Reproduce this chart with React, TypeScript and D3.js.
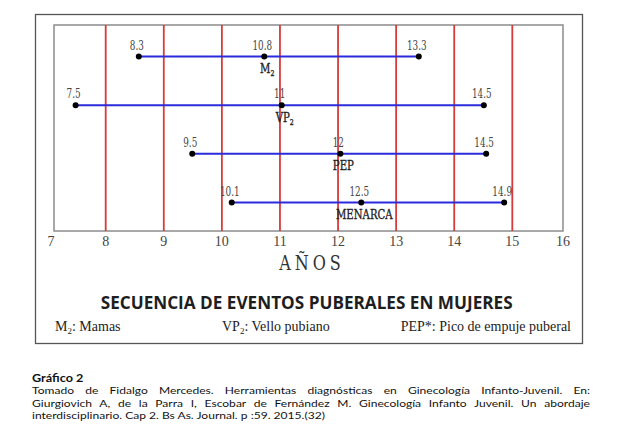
import React, { useEffect, useRef } from 'react';
import * as d3 from 'd3';

// events, top to bottom (name + subscript)
const eventNames = ['M', 'VP', 'PEP', 'MENARCA'];
const eventSubs = ['2', '2', '', ''];

// ages where the dots sit in the figure
const startAges = [8.57, 7.45, 9.49, 10.17];
const midAges = [10.73, 11.03, 12.04, 12.4];
const endAges = [13.39, 14.51, 14.55, 14.86];

// numbers printed above the dots
const startLabels = ['8.3', '7.5', '9.5', '10.1'];
const midLabels = ['10.8', '11', '12', '12.5'];
const endLabels = ['13.3', '14.5', '14.5', '14.9'];

const yearTicks = [7, 8, 9, 10, 11, 12, 13, 14, 15, 16];

const legendMain = ['M', 'VP', 'PEP*'];
const legendSubs = ['2', '2', ''];
const legendRest = [': Mamas', ': Vello pubiano', ': Pico de empuje puberal'];

const chartTitle = 'SECUENCIA DE EVENTOS PUBERALES EN MUJERES';
const axisTitle = 'AÑOS';
const captionTitle = 'Gráfico 2';
const captionLines = [
  'Tomado de Fidalgo Mercedes. Herramientas diagnósticas en Ginecología Infanto-Juvenil. En:',
  'Giurgiovich A, de la Parra I, Escobar de Fernández M. Ginecología Infanto Juvenil. Un abordaje',
  'interdisciplinario. Cap 2. Bs As. Journal. p :59. 2015.(32)',
];

const App: React.FC = () => {
  const svgRef = useRef<SVGSVGElement>(null);

  useEffect(() => {
    if (!svgRef.current) return;
    document.body.style.margin = '0';

    const svg = d3.select(svgRef.current);
    svg.selectAll('*').remove();

    const width = 640;
    const height = 448;
    const plot = { left: 54, right: 563, top: 25, bottom: 231 };
    const slabFont = '"DejaVu Serif", serif';

    svg.append('rect').attr('width', width).attr('height', height).attr('fill', '#fff');

    // outer frame + plot box
    svg.append('rect')
      .attr('x', 35.5).attr('y', 14.5).attr('width', 547).attr('height', 329)
      .attr('fill', 'none').attr('stroke', '#555').attr('stroke-width', 1.3);
    svg.append('rect')
      .attr('x', plot.left).attr('y', plot.top)
      .attr('width', plot.right - plot.left).attr('height', plot.bottom - plot.top)
      .attr('fill', 'none').attr('stroke', '#8c8c8c').attr('stroke-width', 1.5);

    // the printed axis is slightly uneven at both ends
    const x = d3.scaleLinear().domain([7, 8, 15, 16]).range([51, 105.7, 512.3, 563]);
    const y = d3.scalePoint<string>().domain(eventNames).range([56.5, 202.5]);

    // red year lines
    svg.append('g')
      .selectAll('line')
      .data(yearTicks.filter(t => t > 7 && t < 16))
      .join('line')
      .attr('x1', d => x(d)).attr('x2', d => x(d))
      .attr('y1', plot.top).attr('y2', plot.bottom)
      .attr('stroke', '#d93a3a').attr('stroke-width', 1.8);

    svg.append('g')
      .selectAll('text')
      .data(yearTicks)
      .join('text')
      .attr('x', d => x(d))
      .attr('y', 246)
      .attr('text-anchor', 'middle')
      .style('font-family', '"Liberation Serif", serif')
      .style('font-size', '14px')
      .style('fill', '#444')
      .text(d => d);

    svg.append('text')
      .attr('transform', 'translate(312,270) scale(0.8,1)')
      .attr('text-anchor', 'middle')
      .style('font-family', slabFont)
      .style('font-size', '20px')
      .style('letter-spacing', '5px')
      .style('fill', '#333')
      .text(axisTitle);

    // rows
    const rows = eventNames.map((name, i) => ({
      name,
      sub: eventSubs[i],
      ages: [startAges[i], midAges[i], endAges[i]],
      labels: [startLabels[i], midLabels[i], endLabels[i]],
    }));

    const row = svg.append('g')
      .selectAll('g')
      .data(rows)
      .join('g')
      .attr('transform', d => `translate(0,${y(d.name)})`);

    row.append('line')
      .attr('x1', d => x(d.ages[0]))
      .attr('x2', d => x(d.ages[2]))
      .attr('stroke', '#2b2bdc')
      .attr('stroke-width', 2);

    row.selectAll('circle')
      .data(d => d.ages)
      .join('circle')
      .attr('cx', d => x(d))
      .attr('r', 3)
      .attr('fill', '#000');

    row.selectAll('text.value')
      .data(d => d.ages.map((a, k) => ({ a, label: d.labels[k] })))
      .join('text')
      .attr('class', 'value')
      .attr('transform', d => `translate(${x(d.a) - 2},-7) scale(0.68,1)`)
      .attr('text-anchor', 'middle')
      .style('font-family', slabFont)
      .style('font-size', '13px')
      .style('fill', '#444')
      .text(d => d.label);

    const name = row.append('text')
      .attr('transform', d => `translate(${x(d.ages[1]) + 3},16.5) scale(0.78,1)`)
      .attr('text-anchor', 'middle')
      .style('font-family', slabFont)
      .style('font-size', '13px')
      .style('fill', '#222')
      .style('stroke', '#222')
      .style('stroke-width', '0.35px');
    name.append('tspan').text(d => d.name);
    name.append('tspan')
      .attr('dy', 3)
      .style('font-size', '8px')
      .text(d => d.sub);

    // title and legend
    svg.append('text')
      .attr('x', 306.7)
      .attr('y', 309)
      .attr('text-anchor', 'middle')
      .attr('textLength', 412)
      .attr('lengthAdjust', 'spacingAndGlyphs')
      .style('font-family', '"Open Sans", sans-serif')
      .style('font-size', '17px')
      .style('font-weight', '700')
      .style('fill', '#1e1e1e')
      .text(chartTitle);

    const legendX = [55, 222, 571];
    const legendAnchor = ['start', 'start', 'end'];
    const legend = svg.append('g')
      .selectAll('text')
      .data(legendMain)
      .join('text')
      .attr('x', (_, i) => legendX[i])
      .attr('y', 331)
      .attr('text-anchor', (_, i) => legendAnchor[i])
      .style('font-family', '"Liberation Serif", serif')
      .style('font-size', '14px')
      .style('fill', '#222');
    legend.append('tspan').text(d => d);
    legend.append('tspan')
      .attr('dy', 2.5)
      .style('font-size', '9px')
      .text((_, i) => legendSubs[i]);
    legend.append('tspan')
      .attr('dy', (_, i) => (legendSubs[i] ? -2.5 : 0))
      .text((_, i) => legendRest[i]);

    // caption below the figure: Calibri-like text, widened to the printed widths
    const captionFont = 'Lato, sans-serif';
    const caption = svg.append('g');
    caption.append('text')
      .attr('x', 0)
      .attr('y', 382)
      .style('font-family', captionFont)
      .style('font-size', '10.5px')
      .style('font-weight', '700')
      .style('fill', '#111')
      .text(captionTitle);

    const lines = caption.selectAll('text.line')
      .data(captionLines)
      .join('text')
      .attr('class', 'line')
      .attr('x', 0)
      .attr('y', (_, i) => 394.5 + i * 12.2)
      .style('font-family', captionFont)
      .style('font-size', '10px')
      .style('fill', '#111')
      .text(d => d);

    const lastNode = lines.nodes()[captionLines.length - 1] as SVGTextElement;
    const k = 293 / lastNode.getComputedTextLength();
    caption.attr('transform', `translate(32,0) scale(${k},1)`);

    // justify the first two lines to the column width
    const columnWidth = 558 / k;
    lines.each(function (d, i) {
      if (i === captionLines.length - 1) return;
      const el = this as SVGTextElement;
      const natural = el.getComputedTextLength();
      const gaps = d.split(' ').length - 1;
      if (gaps > 0 && natural < columnWidth) {
        d3.select(el).style('word-spacing', `${(columnWidth - natural) / gaps}px`);
      }
    });
  }, []);

  return (
    <div style={{ width: 640, height: 448 }}>
      <svg ref={svgRef} width={640} height={448} viewBox="0 0 640 448" style={{ display: 'block' }} />
    </div>
  );
};

export default App;
